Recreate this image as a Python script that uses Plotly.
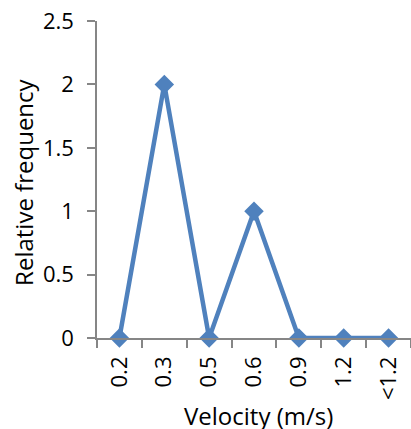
import plotly.graph_objects as go

categories = ["0.2", "0.3", "0.5", "0.6", "0.9", "1.2", "<1.2"]
values = [0, 2, 0, 1, 0, 0, 0]
y_ticks = [0, 0.5, 1, 1.5, 2, 2.5]
y_tick_labels = ["0", "0.5", "1", "1.5", "2", "2.5"]

fig = go.Figure(go.Scatter(
    x=categories, y=values, mode="lines+markers",
    line=dict(color="#4F81BD", width=4.5),
    marker=dict(symbol="diamond", size=15, color="#4F81BD"),
    cliponaxis=False,
))

font = "Open Sans, Liberation Sans, sans-serif"
fig.update_layout(
    width=411, height=429,
    margin=dict(l=97, r=0, t=21, b=91, autoexpand=False),
    paper_bgcolor="white", plot_bgcolor="white",
    font=dict(family=font, size=22, color="#000000"),
    showlegend=False,
    xaxis=dict(
        type="category", range=[-0.5, 6.5], automargin=False,
        tickson="boundaries", ticks="outside", ticklen=8, tickcolor="#868686",
        tickwidth=1.5, ticklabelstandoff=8,
        showline=True, linecolor="#868686", linewidth=1.5,
        showgrid=False, tickangle=-90, tickfont=dict(size=22),
    ),
    yaxis=dict(
        range=[0, 2.5], tickvals=y_ticks, ticktext=y_tick_labels, automargin=False,
        ticks="outside", ticklen=8, tickcolor="#868686", tickwidth=1.5,
        ticklabelstandoff=9,
        showline=True, linecolor="#868686", linewidth=1.5,
        showgrid=False, zeroline=False, tickfont=dict(size=22),
    ),
    annotations=[
        dict(text="Relative frequency", xref="paper", yref="paper",
             x=-0.235, y=0.49, xanchor="center", yanchor="middle",
             textangle=-90, showarrow=False, font=dict(size=24)),
        dict(text="Velocity (m/s)", xref="paper", yref="paper",
             x=0.514, y=-0.243, xanchor="center", yanchor="middle",
             showarrow=False, font=dict(size=24)),
    ],
)

fig.write_html("out.html", config={"displayModeBar": False},
               post_script="document.body.style.margin='0';")
